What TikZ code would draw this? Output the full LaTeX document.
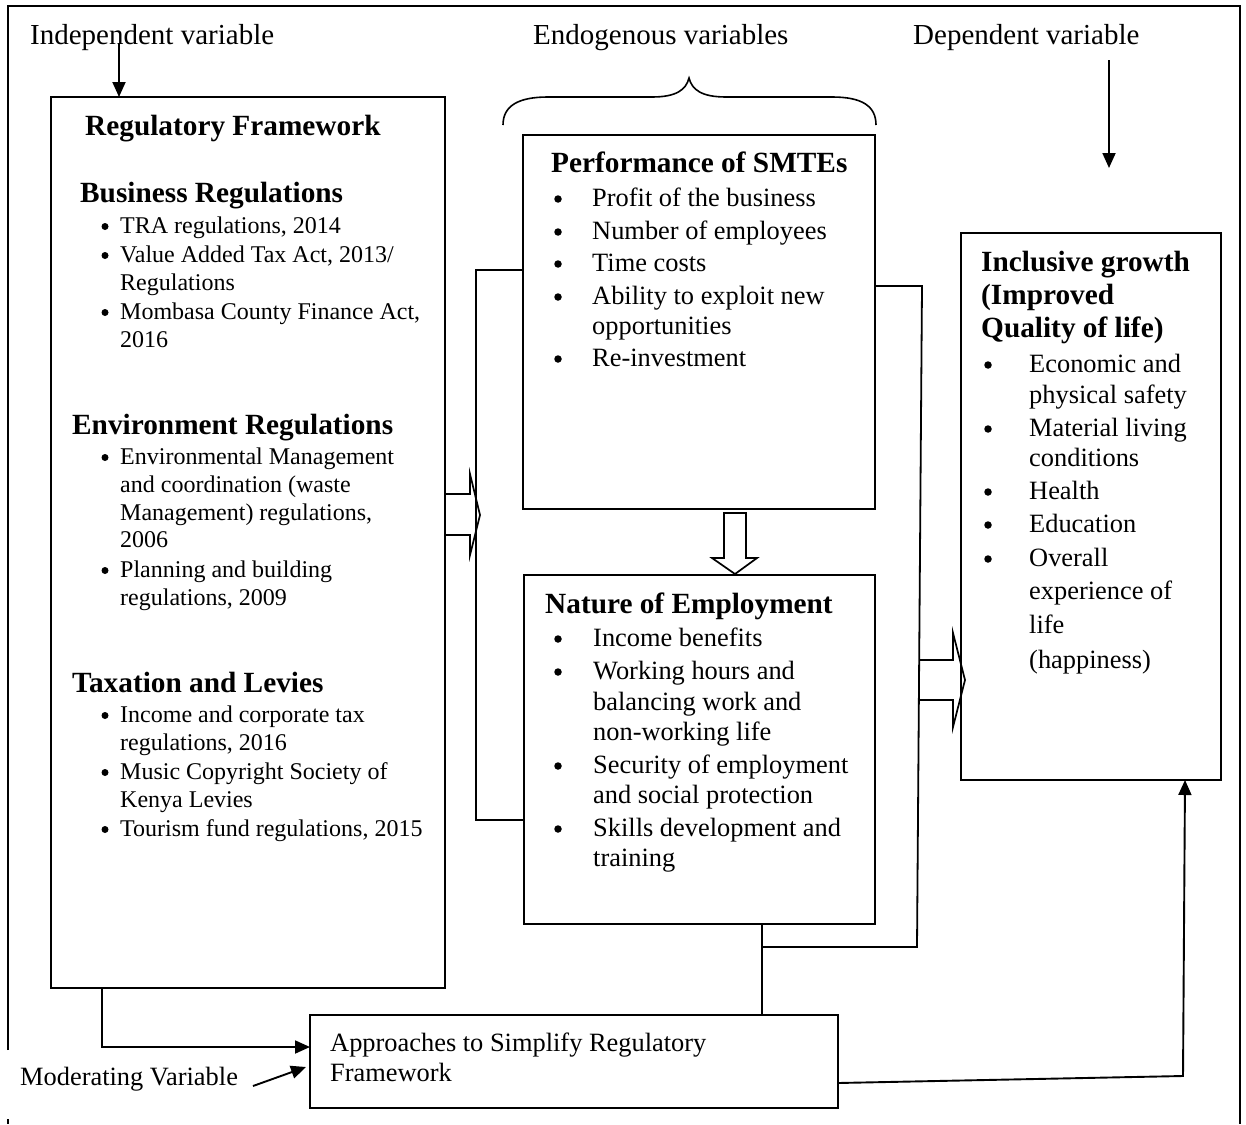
\documentclass[tikz,border=0pt]{standalone}
\usepackage{fontspec}
\setmainfont{Liberation Serif}
\usetikzlibrary{arrows.meta}
\begin{document}
\begin{tikzpicture}[x=1pt,y=-1pt,
  box/.style={draw, line width=1.9pt, inner sep=0pt, outer sep=0pt, anchor=north west},
  conn/.style={line width=1.8pt},
  arr/.style={line width=1.9pt, -{Triangle[length=15pt,width=13pt]}},
  blk/.style={draw, line width=1.7pt, line join=miter},
  hd/.style={anchor=base west, inner sep=0pt, font=\fontsize{29.3}{32}\selectfont\bfseries},
  lt/.style={anchor=base west, inner sep=0pt, font=\fontsize{24}{28}\selectfont},
  mt/.style={anchor=base west, inner sep=0pt, font=\fontsize{26.4}{30}\selectfont},
  tt/.style={anchor=base west, inner sep=0pt, font=\fontsize{29}{32}\selectfont},
  ldot/.style={circle, fill, inner sep=0pt, minimum size=7pt, yshift=6.5pt},
  mdot/.style={circle, fill, inner sep=0pt, minimum size=7.5pt, yshift=7pt},
]
\useasboundingbox (0,0) rectangle (1246,1124);

% outer frame
\draw[line width=1.8pt] (8,1050) -- (8,6) -- (1240,6) -- (1240,1124);
\draw[line width=1.8pt] (8,1119) -- (8,1124);

% boxes
\node[box, minimum width=394pt, minimum height=891pt] (rf) at (51,97) {};
\node[box, minimum width=352pt, minimum height=374pt] (perf) at (523,135) {};
\node[box, minimum width=351pt, minimum height=349pt] (nat) at (524,575) {};
\node[box, minimum width=260pt, minimum height=547pt] (inc) at (961,233) {};
\node[box, minimum width=528pt, minimum height=93pt] (appr) at (310,1015) {};

% top labels
\node[tt] (lind) at (30,45) {Independent variable};
\node[tt] (lend) at (533,45) {Endogenous variables};
\node[tt] (ldep) at (913,45) {Dependent variable};

% brace
\draw[line width=1.6pt] (503,125) .. controls (503,106) and (518,97) .. (548,97)
  -- (652,97) .. controls (676,97) and (686,90) .. (689,78)
  .. controls (692,90) and (702,97) .. (726,97)
  -- (832,97) .. controls (862,97) and (876,106) .. (876,125);

% arrows from labels
\coordinate (ia) at (119,43); \coordinate (ib) at (119,97);
\draw[arr] (ia) -- (ib);
\coordinate (da) at (1109,60); \coordinate (db) at (1109,168);
\draw[arr] (da) -- (db);

% left box text
\node[hd] (h1) at (85,135) {Regulatory Framework};
\node[hd] (h2) at (80,202) {Business Regulations};
\node[ldot] (b1) at (105,233) {};
\node[ldot] (b2) at (105,262) {};
\node[ldot] (b3) at (105,319) {};
\node[lt] (t1) at (120,233) {TRA regulations, 2014};
\node[lt] (t2) at (120,262) {Value Added Tax Act, 2013/};
\node[lt] (t3) at (120,290) {Regulations};
\node[lt] (t4) at (120,319) {Mombasa County Finance Act,};
\node[lt] (t5) at (120,347) {2016};
\node[hd] (h3) at (72,434) {Environment Regulations};
\node[ldot] (b4) at (105,464) {};
\node[ldot] (b5) at (105,577) {};
\node[lt] (t6) at (120,464) {Environmental Management};
\node[lt] (t7) at (120,492) {and coordination (waste};
\node[lt] (t8) at (120,520) {Management) regulations,};
\node[lt] (t9) at (120,547) {2006};
\node[lt] (t10) at (120,577) {Planning and building};
\node[lt] (t11) at (120,605) {regulations, 2009};
\node[hd] (h4) at (72,692) {Taxation and Levies};
\node[ldot] (b6) at (105,722) {};
\node[ldot] (b7) at (105,779) {};
\node[ldot] (b8) at (105,836) {};
\node[lt] (t12) at (120,722) {Income and corporate tax};
\node[lt] (t13) at (120,750) {regulations, 2016};
\node[lt] (t14) at (120,779) {Music Copyright Society of};
\node[lt] (t15) at (120,807) {Kenya Levies};
\node[lt] (t16) at (120,836) {Tourism fund regulations, 2015};

% performance
\node[hd] (h5) at (551,172) {Performance of SMTEs};
\node[mdot] (b9) at (558,206) {};
\node[mdot] (b10) at (558,239) {};
\node[mdot] (b11) at (558,271) {};
\node[mdot] (b12) at (558,304) {};
\node[mdot] (b13) at (558,366) {};
\node[mt] (m1) at (592,206) {Profit of the business};
\node[mt] (m2) at (592,239) {Number of employees};
\node[mt] (m3) at (592,271) {Time costs};
\node[mt] (m4) at (592,304) {Ability to exploit new};
\node[mt] (m5) at (592,334) {opportunities};
\node[mt] (m6) at (592,366) {Re-investment};

% nature of employment
\node[hd] (h6) at (545,613) {Nature of Employment};
\node[mdot] (b14) at (558,646) {};
\node[mdot] (b15) at (558,679) {};
\node[mdot] (b16) at (558,773) {};
\node[mdot] (b17) at (558,836) {};
\node[mt] (n1) at (593,646) {Income benefits};
\node[mt] (n2) at (593,679) {Working hours and};
\node[mt] (n3) at (593,710) {balancing work and};
\node[mt] (n4) at (593,740) {non-working life};
\node[mt] (n5) at (593,773) {Security of employment};
\node[mt] (n6) at (593,803) {and social protection};
\node[mt] (n7) at (593,836) {Skills development and};
\node[mt] (n8) at (593,866) {training};

% inclusive growth
\node[hd] (h7) at (981,271) {Inclusive growth};
\node[hd] (h8) at (981,304) {(Improved};
\node[hd] (h9) at (981,337) {Quality of life)};
\node[mdot] (b18) at (988,372) {};
\node[mdot] (b19) at (988,436) {};
\node[mdot] (b20) at (988,499) {};
\node[mdot] (b21) at (988,532) {};
\node[mdot] (b22) at (988,566) {};
\node[mt] (r1) at (1029,372) {Economic and};
\node[mt] (r2) at (1029,403) {physical safety};
\node[mt] (r3) at (1029,436) {Material living};
\node[mt] (r4) at (1029,466) {conditions};
\node[mt] (r5) at (1029,499) {Health};
\node[mt] (r6) at (1029,532) {Education};
\node[mt] (r7) at (1029,566) {Overall};
\node[mt] (r8) at (1029,599) {experience of};
\node[mt] (r9) at (1029,633) {life};
\node[mt] (r10) at (1029,668) {(happiness)};

% approaches
\node[mt] (a1) at (330,1051) {Approaches to Simplify Regulatory};
\node[mt] (a2) at (330,1081) {Framework};
\node[mt] (mod) at (20,1085) {Moderating Variable};

% left connector
\coordinate (l1) at (476,270); \coordinate (l2) at (476,820);
\draw[conn] (l1 -| perf.west) -- (l1) -- (l2) -- (l2 -| nat.west);
% left block arrow
\draw[blk] (445,494) -- (470,494) -- (470,474) -- (480,515) -- (470,555) -- (470,535) -- (445,535);
% down block arrow
\draw[blk] (724,513) -- (746,513) -- (746,558) -- (757,558) -- (735,574) -- (712,558) -- (724,558) -- cycle;

% right connector
\coordinate (r1a) at (875,286); \coordinate (r1b) at (922,286);
\coordinate (r1c) at (917,947); \coordinate (r1d) at (762,947);
\draw[conn] (r1a) -- (r1b) -- (r1c) -- (r1d);
\coordinate (nb) at (762,924); \coordinate (at) at (762,1015);
\draw[conn] (nb) -- (at);
% right block arrow
\draw[blk] (920,660) -- (953,660) -- (953,633) -- (965,680) -- (953,727) -- (953,700) -- (920,700);

% bottom connectors
\coordinate (rb) at (102,988); \coordinate (rc) at (102,1047); \coordinate (ad) at (310,1047);
\draw[arr] (rb) -- (rc) -- (ad);
\coordinate (ma) at (253,1086); \coordinate (mb2) at (306,1067);
\draw[arr] (ma) -- (mb2);
\coordinate (ae) at (838,1083); \coordinate (af) at (1183,1076); \coordinate (ag) at (1185,780);
\draw[arr] (ae) -- (af) -- (ag);
\end{tikzpicture}
\end{document}
